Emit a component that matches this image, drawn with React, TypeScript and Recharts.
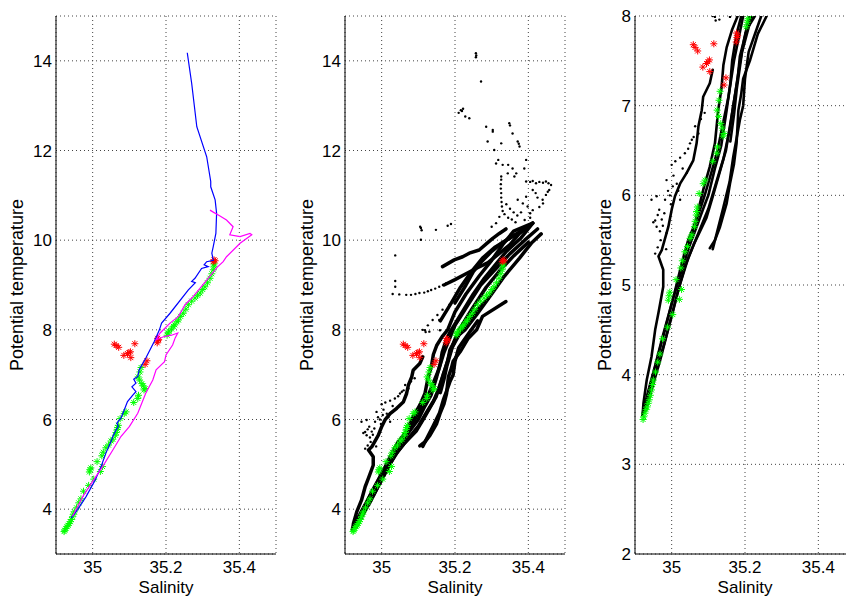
import React from 'react'
import { ScatterChart, Scatter, XAxis, YAxis, CartesianGrid } from 'recharts'

type Pt = [number, number] // [salinity, potential temperature]

const FONT = '"Liberation Sans", Arial, Helvetica, sans-serif'

const salinityTicks = [35, 35.2, 35.4]
const tempTicksFull = [4, 6, 8, 10, 12, 14]
const tempTicksZoom = [2, 3, 4, 5, 6, 7, 8]

// bottle samples
const greenStars: Pt[] = [
  [34.922, 3.5], [34.924, 3.53], [34.927, 3.57], [34.93, 3.61], [34.933, 3.64], [34.936, 3.68],
  [34.939, 3.72], [34.942, 3.77], [34.945, 3.83], [34.948, 3.89], [34.95, 3.94], [34.956, 4.03],
  [34.962, 4.14], [34.968, 4.23], [34.975, 4.4], [34.989, 4.53], [35.003, 4.67], [35.021, 4.84],
  [34.991, 4.83], [34.993, 4.88], [34.995, 4.92], [35.027, 4.95], [35.012, 5.06], [35.025, 5.19],
  [35.029, 5.27], [35.036, 5.37], [35.043, 5.43], [35.05, 5.52], [35.055, 5.56], [35.062, 5.65],
  [35.064, 5.71], [35.067, 5.78], [35.068, 5.82], [35.07, 5.87], [35.075, 6.02], [35.086, 6.13],
  [35.091, 6.17], [35.112, 6.38], [35.123, 6.47], [35.125, 6.54], [35.14, 6.66], [35.143, 6.69],
  [35.138, 6.75], [35.134, 6.8], [35.128, 6.88], [35.124, 6.95], [35.129, 7.06], [35.132, 7.16],
  [35.203, 7.88], [35.206, 7.93], [35.208, 7.97], [35.215, 8.02], [35.22, 8.08], [35.224, 8.11],
  [35.23, 8.18], [35.234, 8.22], [35.24, 8.3], [35.247, 8.37], [35.254, 8.46], [35.261, 8.56],
  [35.27, 8.64], [35.279, 8.71], [35.286, 8.77], [35.293, 8.82], [35.3, 8.9], [35.306, 8.96],
  [35.313, 9.05], [35.32, 9.15], [35.325, 9.25], [35.329, 9.34], [35.331, 9.42], [35.331, 9.47],
]

const redStars: Pt[] = [
  [35.059, 7.68], [35.064, 7.65], [35.071, 7.61], [35.115, 7.69], [35.103, 7.51], [35.099, 7.49],
  [35.095, 7.47], [35.085, 7.43], [35.104, 7.38], [35.148, 7.31], [35.143, 7.23], [35.177, 7.81],
  [35.178, 7.76], [35.176, 7.71], [35.18, 7.78], [35.329, 9.52], [35.331, 9.56], [35.334, 9.54],
]

// CTD profiles
const blueProfile: Pt[] = [
  [34.941, 3.8], [34.959, 3.99], [34.982, 4.28], [35.007, 4.65], [35.023, 4.95], [35.036, 5.25],
  [35.05, 5.51], [35.056, 5.64], [35.064, 5.77], [35.07, 5.85], [35.066, 5.92], [35.077, 6.03],
  [35.086, 6.21], [35.095, 6.4], [35.11, 6.55], [35.118, 6.62], [35.107, 6.73], [35.118, 6.81],
  [35.112, 6.9], [35.123, 6.96], [35.127, 7.11], [35.145, 7.37], [35.168, 7.74], [35.182, 8.0],
  [35.188, 8.15], [35.211, 8.37], [35.261, 8.89], [35.28, 9.05], [35.27, 9.08], [35.279, 9.15],
  [35.297, 9.37], [35.315, 9.41], [35.304, 9.45], [35.311, 9.52], [35.329, 9.55], [35.325, 9.71],
  [35.329, 9.86], [35.336, 10.15], [35.338, 10.6], [35.334, 10.9], [35.322, 11.19], [35.322, 11.31],
  [35.311, 11.86], [35.284, 12.53], [35.27, 13.5], [35.258, 14.18],
]

const magentaProfile: Pt[] = [
  [34.945, 3.84], [34.973, 4.28], [35.0, 4.62], [35.027, 4.95], [35.055, 5.32], [35.077, 5.62],
  [35.1, 5.84], [35.123, 6.14], [35.145, 6.59], [35.164, 6.88], [35.173, 7.11], [35.196, 7.29],
  [35.2, 7.44], [35.218, 7.66], [35.225, 7.82], [35.232, 7.93], [35.215, 7.88], [35.195, 7.85],
  [35.173, 7.78], [35.184, 7.93], [35.211, 8.15], [35.234, 8.3], [35.252, 8.56], [35.274, 8.74],
  [35.311, 9.11], [35.34, 9.4], [35.356, 9.52], [35.365, 9.63], [35.402, 9.93], [35.434, 10.12],
  [35.429, 10.15], [35.402, 10.08], [35.374, 10.12], [35.383, 10.3], [35.365, 10.45],
  [35.345, 10.55], [35.33, 10.62], [35.32, 10.67],
]

// glider sections, one array per dive track
const trackLeft: Pt[] = [
  [34.921, 3.56], [34.923, 3.68], [34.932, 3.94], [34.945, 4.2], [34.955, 4.5], [34.964, 4.69],
  [34.977, 4.98], [34.977, 5.17], [34.964, 5.32], [34.973, 5.39], [34.991, 5.65], [35.0, 5.84],
  [35.009, 5.99], [35.023, 6.13], [35.041, 6.25], [35.059, 6.39], [35.068, 6.58], [35.073, 6.77],
  [35.082, 6.95], [35.086, 7.1], [35.104, 7.25], [35.112, 7.4],
]
const trackMid: Pt[] = [
  [35.04, 5.4], [35.059, 5.61], [35.073, 5.84], [35.086, 6.06], [35.104, 6.32], [35.118, 6.58],
  [35.127, 6.95], [35.136, 7.2], [35.141, 7.45], [35.15, 7.65], [35.165, 7.85], [35.18, 8.0],
  [35.2, 8.4], [35.23, 8.8], [35.266, 9.2], [35.3, 9.55], [35.33, 9.9], [35.36, 10.2], [35.412, 10.38],
]
const trackB1: Pt[] = [
  [34.92, 3.55], [34.935, 3.8], [34.955, 4.1], [34.977, 4.45], [35.004, 4.85], [35.03, 5.2],
  [35.05, 5.45], [35.068, 5.65], [35.086, 5.85], [35.1, 6.0], [35.118, 6.3], [35.135, 6.55],
  [35.15, 6.95], [35.16, 7.25], [35.165, 7.5], [35.177, 7.8], [35.19, 8.0], [35.22, 8.4],
  [35.25, 8.8], [35.28, 9.15], [35.31, 9.45], [35.34, 9.75], [35.38, 10.05], [35.412, 10.38],
]
const trackB2: Pt[] = [
  [34.93, 3.6], [34.95, 3.9], [34.968, 4.15], [34.99, 4.5], [35.015, 4.9], [35.036, 5.2],
  [35.06, 5.45], [35.095, 5.75], [35.113, 6.0], [35.141, 6.4], [35.159, 6.75], [35.168, 7.0],
  [35.18, 7.3], [35.186, 7.55], [35.205, 7.85], [35.227, 8.0], [35.26, 8.35], [35.3, 8.8],
  [35.335, 9.2], [35.376, 9.6], [35.41, 9.95], [35.435, 10.14],
]
const trackB3: Pt[] = [
  [35.104, 5.41], [35.118, 5.5], [35.132, 5.65], [35.15, 5.91], [35.159, 6.13], [35.17, 6.35],
  [35.177, 6.58], [35.182, 6.95], [35.19, 7.14], [35.195, 7.3], [35.214, 7.51], [35.235, 7.8],
  [35.259, 8.0], [35.275, 8.3], [35.339, 8.63],
]
const trackB4: Pt[] = [
  [35.112, 5.4], [35.14, 5.85], [35.158, 6.15], [35.168, 6.43], [35.18, 6.7], [35.186, 6.84],
  [35.195, 7.0], [35.2, 7.3], [35.21, 7.6], [35.24, 7.95], [35.262, 8.2],
]
const trackB5: Pt[] = [
  [35.16, 6.6], [35.17, 6.9], [35.178, 7.2], [35.192, 7.6], [35.215, 7.95], [35.245, 8.3], [35.29, 8.7],
]
const trackC1: Pt[] = [
  [34.924, 3.58], [34.94, 3.85], [34.962, 4.2], [34.985, 4.55], [35.01, 4.95], [35.028, 5.25],
  [35.045, 5.5], [35.07, 5.75], [35.09, 6.0], [35.108, 6.25], [35.125, 6.5], [35.14, 6.8],
  [35.155, 7.1], [35.17, 7.5], [35.185, 7.8], [35.2, 8.1], [35.235, 8.55], [35.27, 9.0],
  [35.31, 9.35], [35.35, 9.7], [35.39, 10.0], [35.425, 10.25],
]
const trackC2: Pt[] = [
  [34.935, 3.7], [34.958, 4.05], [34.98, 4.35], [35.0, 4.65], [35.022, 5.0], [35.045, 5.3],
  [35.075, 5.6], [35.1, 5.85], [35.122, 6.15], [35.148, 6.5], [35.162, 6.85], [35.172, 7.1],
  [35.185, 7.45], [35.198, 7.75], [35.215, 8.05], [35.245, 8.45], [35.285, 8.95], [35.32, 9.3],
  [35.36, 9.65], [35.4, 9.95],
]
const trackC3: Pt[] = [
  [35.16, 8.2], [35.19, 8.6], [35.215, 8.95], [35.245, 9.3], [35.275, 9.6], [35.31, 9.85],
  [35.35, 10.05], [35.39, 10.25],
]
const trackU2: Pt[] = [
  [35.166, 9.41], [35.198, 9.56], [35.221, 9.63], [35.239, 9.71], [35.266, 9.78], [35.29, 9.95],
  [35.303, 10.04], [35.321, 10.15], [35.339, 10.25],
]
const trackU3: Pt[] = [
  [35.17, 9.0], [35.2, 9.12], [35.23, 9.25], [35.26, 9.38], [35.29, 9.5], [35.32, 9.7],
  [35.35, 9.9], [35.376, 10.15], [35.412, 10.38],
]
const trackU4: Pt[] = [
  [35.2, 8.6], [35.23, 9.0], [35.25, 9.3], [35.27, 9.5], [35.3, 9.75], [35.33, 9.95],
  [35.36, 10.1], [35.4, 10.3],
]

const lowDots: Pt[] = [
  [34.945, 5.95], [34.959, 5.99], [34.973, 5.73], [34.959, 5.65], [34.955, 5.35], [34.962, 5.42],
  [34.966, 5.84], [34.976, 5.66], [34.985, 5.4], [34.986, 6.17], [34.99, 6.05], [35.0, 6.34],
  [35.014, 6.13], [35.003, 6.1], [35.01, 6.38], [35.023, 6.42], [35.036, 6.47], [35.05, 6.58],
  [35.064, 6.77], [35.073, 6.69], [35.08, 6.85], [35.041, 6.25], [35.023, 5.95], [34.986, 5.58],
  [34.98, 5.8], [34.995, 6.0], [35.03, 6.3], [35.055, 6.62], [35.09, 6.92], [34.97, 5.5],
  [34.962, 5.78], [34.95, 5.7], [34.955, 5.72], [34.968, 5.6], [35.005, 6.22], [35.045, 6.52],
  [35.06, 6.65], [35.018, 6.05], [34.998, 5.9], [34.982, 5.95],
]
const midDots: Pt[] = [
  [35.037, 9.66], [35.037, 9.09], [35.037, 8.96], [35.03, 8.8], [35.048, 8.79], [35.067, 8.78],
  [35.08, 8.78], [35.092, 8.8], [35.103, 8.82], [35.116, 8.83], [35.126, 8.86], [35.135, 8.89],
  [35.146, 8.92], [35.157, 8.96], [35.167, 9.0], [35.176, 9.04], [35.107, 10.27], [35.109, 10.22],
  [35.105, 10.3], [35.107, 10.01], [35.148, 10.23], [35.18, 10.32], [35.189, 10.36], [35.112, 8.0],
  [35.126, 8.1], [35.139, 8.22], [35.152, 8.33], [35.166, 8.45], [35.185, 8.56], [35.203, 8.67],
  [35.157, 8.22], [35.13, 7.96], [35.118, 7.99], [35.12, 7.95], [35.159, 7.99],
]
const upperDots: Pt[] = [
  [35.257, 14.17], [35.258, 14.12], [35.257, 14.08], [35.271, 13.54], [35.21, 12.84], [35.216, 12.9],
  [35.222, 12.93], [35.219, 12.88], [35.228, 12.76], [35.239, 12.72], [35.285, 12.53], [35.303, 12.46],
  [35.303, 12.42], [35.348, 12.61], [35.35, 12.56], [35.357, 12.38], [35.371, 12.2], [35.374, 12.15],
  [35.376, 12.09], [35.326, 12.16], [35.289, 12.2], [35.307, 12.01], [35.312, 11.71], [35.318, 11.79],
  [35.33, 11.68], [35.344, 11.49], [35.345, 11.68], [35.357, 11.6], [35.367, 11.49], [35.362, 11.42],
  [35.389, 11.6], [35.394, 11.79], [35.394, 11.31], [35.405, 11.3], [35.412, 11.32], [35.421, 11.27],
  [35.43, 11.3], [35.44, 11.28], [35.448, 11.31], [35.455, 11.27], [35.462, 11.23], [35.457, 11.12],
  [35.453, 11.08], [35.448, 11.01], [35.439, 10.9], [35.412, 11.12], [35.42, 11.05], [35.425, 10.95],
  [35.394, 10.97], [35.385, 10.82], [35.371, 10.9], [35.398, 10.75], [35.412, 10.67], [35.405, 10.6],
  [35.38, 10.62], [35.37, 10.55], [35.326, 11.42], [35.326, 11.35], [35.325, 11.25], [35.325, 11.15],
  [35.326, 11.05], [35.326, 10.95], [35.327, 10.85], [35.328, 10.75], [35.33, 10.65], [35.335, 10.58],
  [35.345, 10.5], [35.355, 10.46], [35.312, 10.38], [35.321, 10.52], [35.3, 10.3], [35.365, 10.4],
  [35.39, 10.45], [35.36, 10.62], [35.35, 10.7], [35.34, 10.8], [35.44, 10.82], [35.43, 10.74],
  [35.405, 10.5],
]

const gliderTracks = [
  trackLeft, trackMid, trackB1, trackB2, trackB3, trackB4, trackB5,
  trackC1, trackC2, trackC3, trackU2, trackU3, trackU4,
]
const gliderDots = [lowDots, midDots, upperDots]

const rows = (pts: Pt[]) => pts.map(([s, t]) => ({ s, t }))

const NoMarker = () => <g />
const SmallDot = (p: any) => <circle cx={p.cx} cy={p.cy} r={1.2} fill="#000" />

const asterisk = (color: string) => (p: any) => {
  const { cx, cy } = p
  const r = 3.5
  const d = 2.5
  return (
    <g stroke={color} strokeWidth={1}>
      <line x1={cx - r} y1={cy} x2={cx + r} y2={cy} />
      <line x1={cx} y1={cy - r} x2={cx} y2={cy + r} />
      <line x1={cx - d} y1={cy - d} x2={cx + d} y2={cy + d} />
      <line x1={cx - d} y1={cy + d} x2={cx + d} y2={cy - d} />
    </g>
  )
}
const GreenStar = asterisk('#00ff00')
const RedStar = asterisk('#ff0000')

// plot box inside every 290x597 chart: x 56..276, y 16..554
const PLOT_LEFT = 56
const PLOT_MID_Y = 285
const FONT_SIZE = 17

const salinityTitle = () => (
  <text x={166} y={593} textAnchor="middle" fontSize={FONT_SIZE} fontFamily={FONT} fill="#000">
    Salinity
  </text>
)

const tempTitle = (gap: number) => () => {
  const x = PLOT_LEFT - gap
  const y = PLOT_MID_Y
  return (
    <text
      x={x}
      y={y}
      transform={`rotate(-90 ${x} ${y})`}
      textAnchor="middle"
      fontSize={18}
      fontFamily={FONT}
      fill="#000"
    >
      Potential temperature
    </text>
  )
}

const tickStyle = { fill: '#000', fontSize: FONT_SIZE, fontFamily: FONT }

function Panel({
  left,
  yDomain,
  yTicks,
  titleGap,
  children,
}: {
  left: number
  yDomain: [number, number]
  yTicks: number[]
  titleGap: number
  children: React.ReactNode
}) {
  return (
    <div style={{ position: 'absolute', left, top: 0 }}>
      <ScatterChart width={290} height={597} margin={{ top: 16, right: 14, bottom: 0, left: 0 }}>
        <CartesianGrid stroke="#444" strokeDasharray="1 3" />
        <XAxis
          type="number"
          dataKey="s"
          domain={[34.9, 35.5]}
          ticks={salinityTicks}
          allowDataOverflow
          height={43}
          tickLine={false}
          tickSize={5}
          tickMargin={2}
          axisLine={{ stroke: '#000' }}
          tick={tickStyle}
          label={{ content: salinityTitle }}
        />
        <YAxis
          type="number"
          dataKey="t"
          domain={yDomain}
          ticks={yTicks}
          allowDataOverflow
          width={56}
          tickLine={false}
          tickSize={4}
          tickMargin={0}
          axisLine={{ stroke: '#000' }}
          tick={tickStyle}
          label={{ content: tempTitle(titleGap) }}
        />
        {children}
      </ScatterChart>
    </div>
  )
}

const stars = () => [
  <Scatter key="green" data={rows(greenStars)} shape={GreenStar} isAnimationActive={false} />,
  <Scatter key="red" data={rows(redStars)} shape={RedStar} isAnimationActive={false} />,
]

const glider = (width: number) => [
  ...gliderTracks.map((tr, i) => (
    <Scatter
      key={`track-${i}`}
      data={rows(tr)}
      line={{ stroke: '#000', strokeWidth: width, strokeLinejoin: 'round', strokeLinecap: 'round' }}
      shape={NoMarker}
      isAnimationActive={false}
    />
  )),
  ...gliderDots.map((d, i) => (
    <Scatter key={`dots-${i}`} data={rows(d)} shape={SmallDot} isAnimationActive={false} />
  )),
]

export default function App() {
  return (
    <div
      style={{
        position: 'fixed',
        left: 0,
        top: 0,
        width: 846,
        height: 597,
        overflow: 'hidden',
        background: '#fff',
      }}
    >
      <Panel left={0} yDomain={[3, 15]} yTicks={tempTicksFull} titleGap={33}>
        {[
          ...stars(),
          <Scatter
            key="blue"
            data={rows(blueProfile)}
            line={{ stroke: '#0000ff', strokeWidth: 1.2 }}
            shape={NoMarker}
            isAnimationActive={false}
          />,
          <Scatter
            key="magenta"
            data={rows(magentaProfile)}
            line={{ stroke: '#ff00ff', strokeWidth: 1.2 }}
            shape={NoMarker}
            isAnimationActive={false}
          />,
        ]}
      </Panel>
      <Panel left={289.3} yDomain={[3, 15]} yTicks={tempTicksFull} titleGap={32}>
        {[...glider(3.5), ...stars()]}
      </Panel>
      <Panel left={579.3} yDomain={[2, 8]} yTicks={tempTicksZoom} titleGap={24}>
        {[...glider(2.6), ...stars()]}
      </Panel>
    </div>
  )
}
